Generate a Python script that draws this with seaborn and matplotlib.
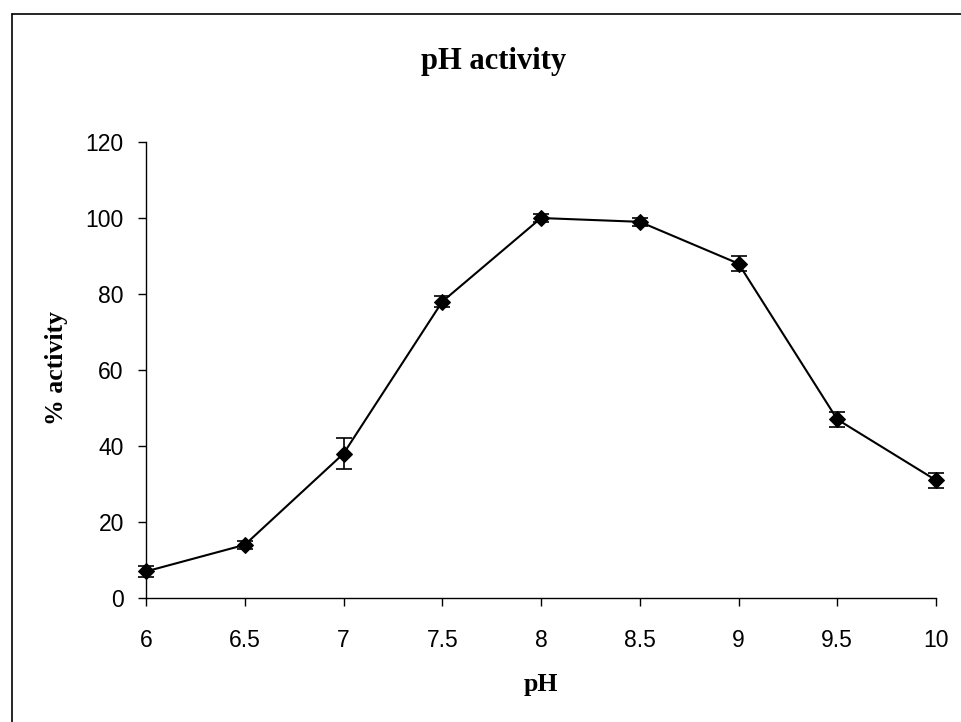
import numpy as np
import pandas as pd
import seaborn as sns
import matplotlib.pyplot as plt
from matplotlib.lines import Line2D

# data
ph = [6, 6.5, 7, 7.5, 8, 8.5, 9, 9.5, 10]
activity = [7, 14, 38, 78, 100, 99, 88, 47, 31]
err = [1.5, 1, 4, 1.5, 1, 1, 2, 2, 2]

df = pd.DataFrame({'pH': ph, 'activity': activity, 'err': err})

sns.set_style('white')
plt.rcParams['font.family'] = ['Liberation Sans', 'DejaVu Sans']
plt.rcParams['text.color'] = 'black'

fig = plt.figure(figsize=(9.62, 7.22), dpi=100)
ax = fig.add_axes([0.1518, 0.1717, 0.8212, 0.6316])

ax.errorbar(df['pH'], df['activity'], yerr=df['err'], fmt='none',
            ecolor='black', elinewidth=1.2, capsize=6, capthick=1.2, zorder=2, clip_on=False)
sns.lineplot(data=df, x='pH', y='activity', ax=ax, color='black', lw=1.5,
             marker='D', markersize=8, markeredgecolor='black', zorder=3, clip_on=False)

ax.set_xlim(6, 10)
ax.set_ylim(0, 120)
ax.set_xticks(ph)
ax.set_xticklabels(['6', '6.5', '7', '7.5', '8', '8.5', '9', '9.5', '10'])
ax.set_yticks([0, 20, 40, 60, 80, 100, 120])
ax.tick_params(axis='both', direction='out', length=6, width=1, labelsize=16.5,
               colors='black', left=True, bottom=True)
ax.tick_params(axis='x', pad=16)
ax.tick_params(axis='y', pad=10)

for s in ['top', 'right']:
    ax.spines[s].set_visible(False)
for s in ['left', 'bottom']:
    ax.spines[s].set_color('black')
    ax.spines[s].set_linewidth(1)

ax.set_xlabel('')
ax.set_ylabel('')
fig.text(541/962, 1-685/722, 'pH', ha='center', va='center', fontsize=18.5,
         fontweight='bold', family='Liberation Serif', color='black')
fig.text(57/962, 1-368.5/722, '% activity', ha='center', va='center', rotation=90,
         fontsize=18.5, fontweight='bold', family='Liberation Serif', color='black')
fig.text(494/962, 1-61.5/722, 'pH activity', ha='center', va='center', fontsize=22,
         fontweight='bold', family='Liberation Serif', color='black')

# outer chart frame (left and top edges visible)
fig.add_artist(Line2D([11.5/962, 11.5/962], [0, 1-14/722], color='black', lw=1.2, transform=fig.transFigure))
fig.add_artist(Line2D([11.5/962, 1], [1-14/722, 1-14/722], color='black', lw=1.2, transform=fig.transFigure))

fig.savefig('out.png', dpi=100)
